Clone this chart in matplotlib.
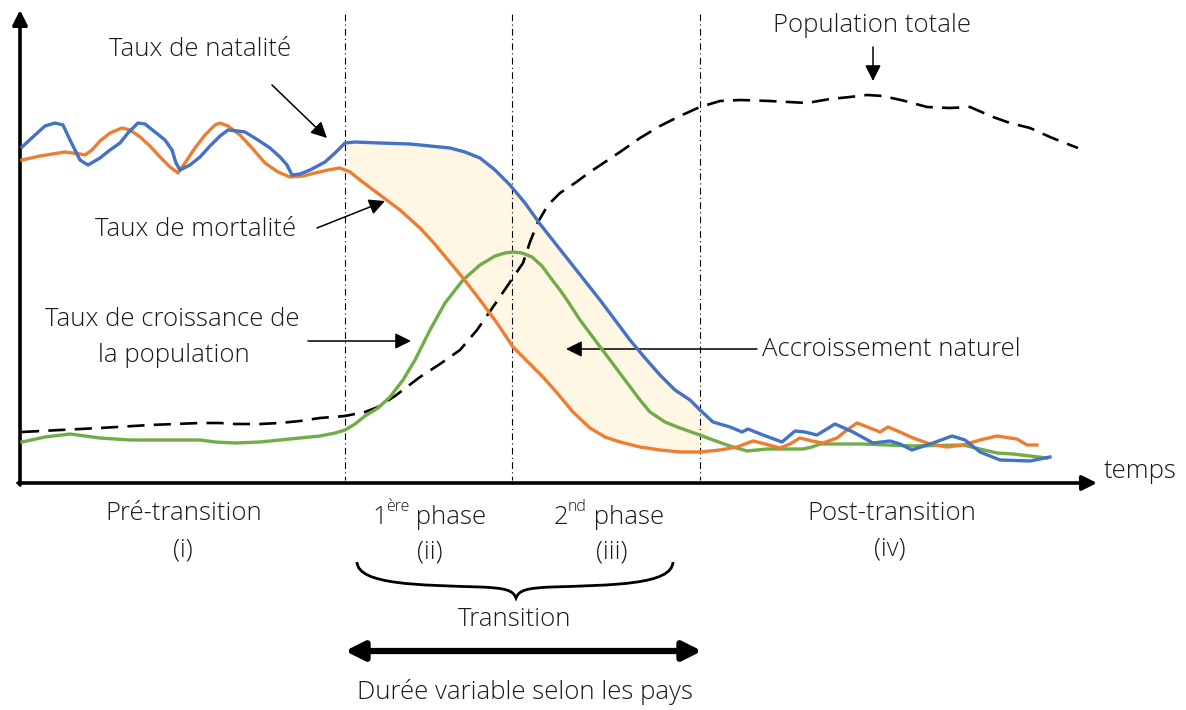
import matplotlib.pyplot as plt
from matplotlib.path import Path
from matplotlib.patches import PathPatch

plt.rcParams['font.family'] = ['Open Sans', 'DejaVu Sans']
plt.rcParams['font.weight'] = 'light'

# Curves (x = time, y = pixel height from the top)
birth_x = [22, 35, 45, 55, 63, 70, 80, 88, 100, 110, 120, 128, 138, 145, 155, 165, 172, 176, 180,
           190, 200, 210, 220, 228, 238, 245, 258, 270, 280, 287, 292, 300, 310, 325, 335, 345, 355,
           380, 410, 430, 450, 465, 480, 495, 510, 525, 540, 555, 570, 585, 600, 615, 630, 645, 660,
           675, 690, 700, 713, 730, 742, 748, 763, 782, 795, 805, 817, 835, 853, 873, 890, 900, 912,
           933, 952, 965, 980, 1000, 1030, 1050]
birth_y = [147, 135, 126, 123, 125, 140, 160, 165, 158, 150, 143, 133, 123, 124, 132, 140, 150, 163, 170,
           165, 157, 146, 136, 130, 131, 132, 140, 148, 157, 165, 175, 174, 170, 162, 153, 143, 142,
           143, 144, 146, 148, 152, 158, 170, 185, 203, 224, 243, 262, 281, 300, 320, 340, 358, 375,
           390, 400, 410, 422, 427, 432, 429, 435, 442, 431, 432, 435, 424, 432, 443, 441, 444, 450,
           443, 436, 440, 452, 460, 461, 457]

death_x = [22, 40, 65, 80, 85, 92, 100, 110, 122, 130, 140, 150, 160, 170, 178, 185, 195, 205, 215,
           220, 228, 240, 252, 265, 278, 290, 303, 315, 328, 340, 350, 360, 380, 400, 420, 433, 448,
           463, 480, 497, 513, 528, 543, 558, 573, 590, 605, 620, 640, 660, 680, 700, 720, 737, 753,
           765, 780, 790, 800, 812, 823, 837, 847, 857, 870, 880, 888, 900, 913, 930, 947, 963, 980,
           997, 1010, 1017, 1027, 1037]
death_y = [160, 156, 152, 154, 155, 150, 141, 133, 128, 130, 137, 146, 157, 167, 173, 163, 148, 135, 125,
           123, 126, 135, 148, 163, 172, 177, 176, 173, 170, 168, 172, 180, 195, 210, 228, 242, 260,
           278, 300, 323, 347, 362, 377, 394, 412, 428, 437, 442, 447, 450, 452, 452, 450, 447, 441,
           444, 448, 444, 438, 441, 443, 438, 430, 423, 428, 432, 427, 432, 438, 444, 447, 445, 440,
           436, 438, 439, 445, 445]

growth_x = [22, 45, 70, 100, 130, 170, 200, 215, 235, 260, 280, 300, 320, 335, 345, 355, 365, 378,
            390, 403, 415, 430, 445, 463, 480, 495, 505, 513, 522, 532, 542, 550, 560, 567, 580, 595,
            610, 625, 640, 650, 665, 680, 697, 713, 730, 747, 767, 803, 812, 820, 863, 913, 963, 980,
            997, 1013, 1030, 1047]
growth_y = [442, 437, 434, 438, 440, 440, 440, 442, 443, 442, 440, 438, 436, 433, 430, 424, 416, 408,
            397, 380, 360, 330, 303, 280, 265, 256, 253, 252, 253, 257, 266, 277, 290, 300, 320, 340,
            360, 380, 400, 412, 422, 428, 434, 440, 446, 451, 449, 449, 447, 444, 444, 446, 445, 449,
            453, 454, 456, 458]

pop_x = [22, 60, 100, 150, 200, 220, 235, 260, 280, 300, 320, 345, 365, 378, 395, 420, 440, 460, 477,
         493, 508, 523, 530, 538, 548, 560, 575, 590, 605, 620, 640, 660, 680, 700, 720, 740, 770, 807,
         830, 850, 867, 883, 905, 927, 950, 970, 993, 1010, 1030, 1050, 1065, 1078]
pop_y = [432, 430, 428, 425, 423, 423, 424, 424, 423, 421, 418, 416, 412, 407, 396, 377, 364, 350, 330,
         307, 285, 263, 242, 222, 205, 193, 183, 172, 162, 152, 138, 126, 116, 107, 101, 100, 101, 103,
         99, 97, 95, 96, 101, 107, 108, 107, 117, 123, 128, 137, 143, 148]

phase_bounds = [345, 512, 700]
phase_names = ['Pré-transition', None, None, 'Post-transition']
phase_nums = ['(i)', '(ii)', '(iii)', '(iv)']

BLUE = '#4472C4'
ORANGE = '#ED7D31'
GREEN = '#70AD47'
INK = '#1a1a1a'
FS = 18.5

fig = plt.figure(figsize=(11.86, 7.10), dpi=100)
ax = fig.add_axes([0, 0, 1, 1])
ax.set_xlim(0, 1186)
ax.set_ylim(710, 0)
ax.axis('off')

# natural increase band between birth and death rates
fb = [(x, y) for x, y in zip(birth_x, birth_y) if 345 <= x <= 713]
fd = [(x, y) for x, y in zip(death_x, death_y) if 345 <= x <= 713]
poly = fb + fd[::-1]
ax.fill([p[0] for p in poly], [p[1] for p in poly], color='#FFF6E3', lw=0, zorder=1)

for xv in phase_bounds:
    ax.plot([xv, xv], [14, 480], color='black', lw=0.8, ls=(0, (6, 3, 1, 3)), zorder=2)

ax.plot(pop_x, pop_y, color='black', lw=1.9, dashes=(6.5, 3.5), zorder=3)
ax.plot(growth_x, growth_y, color=GREEN, lw=2.4, solid_joinstyle='round', zorder=4)
ax.plot(death_x, death_y, color=ORANGE, lw=2.4, solid_joinstyle='round', zorder=5)
ax.plot(birth_x, birth_y, color=BLUE, lw=2.4, solid_joinstyle='round', zorder=6)

# axes arrows
ax.annotate('', xy=(20, 10), xytext=(20, 485),
            arrowprops=dict(arrowstyle='-|>', lw=2.6, color='black', mutation_scale=22, shrinkA=0, shrinkB=0))
ax.annotate('', xy=(1097, 483), xytext=(18, 483),
            arrowprops=dict(arrowstyle='-|>', lw=2.6, color='black', mutation_scale=22, shrinkA=0, shrinkB=0))
ax.text(1104, 472, 'temps', fontsize=FS, va='center', ha='left', color=INK)

# labels with pointers
arrow_kw = dict(arrowstyle='-|>', lw=1.1, color='black', mutation_scale=24, shrinkA=0, shrinkB=0)
ax.text(200, 49, 'Taux de natalité', fontsize=FS, ha='center', va='center', color=INK)
ax.annotate('', xy=(327, 138), xytext=(272, 85), arrowprops=arrow_kw)
ax.text(196, 230, 'Taux de mortalité', fontsize=FS, ha='center', va='center', color=INK)
ax.annotate('', xy=(385, 201), xytext=(317, 228), arrowprops=arrow_kw)
ax.text(172, 320, 'Taux de croissance de', fontsize=FS, ha='center', va='center', color=INK)
ax.text(174, 355, 'la population', fontsize=FS, ha='center', va='center', color=INK)
ax.annotate('', xy=(411, 341), xytext=(308, 341), arrowprops=arrow_kw)
ax.text(762, 350, 'Accroissement naturel', fontsize=FS, ha='left', va='center', color=INK)
ax.annotate('', xy=(566, 349), xytext=(757, 349), arrowprops=arrow_kw)
ax.text(872, 26, 'Population totale', fontsize=FS, ha='center', va='center', color=INK)
ax.annotate('', xy=(873, 81), xytext=(873, 47), arrowprops=arrow_kw)

# phase labels
ax.text(184, 514, phase_names[0], fontsize=FS, ha='center', va='center', color=INK)
ax.text(183, 550, phase_nums[0], fontsize=FS, ha='center', va='center', color=INK)
ax.text(892, 513, phase_names[3], fontsize=FS, ha='center', va='center', color=INK)
ax.text(890, 549, phase_nums[3], fontsize=FS, ha='center', va='center', color=INK)

for left, num, sup, numx in [(372, '1', 'ère', 430), (554, '2', 'nd', 612)]:
    t1 = ax.text(left, 517, num, fontsize=FS, ha='left', va='center', color=INK)
    t2 = ax.annotate(sup, xy=(0.95, 0.58), xycoords=t1, fontsize=11.5, ha='left', va='bottom', color=INK)
    ax.annotate(' phase', xy=(1, 0), xycoords=(t2, t1), fontsize=FS, ha='left', va='bottom', color=INK)
    ax.text(numx, 552, phase_nums[1 if num == '1' else 2], fontsize=FS, ha='center', va='center', color=INK)

# brace under transition phases
verts = [(357, 562), (358, 585), (420, 585), (480, 587), (505, 588), (513, 590), (516, 598),
         (519, 590), (527, 588), (552, 587), (612, 585), (672, 585), (673, 562)]
codes = [Path.MOVETO] + [Path.CURVE4] * 12
ax.add_patch(PathPatch(Path(verts, codes), fill=False, lw=2.0, color='black', zorder=3))
ax.text(515, 619, 'Transition', fontsize=FS, ha='center', va='center', color=INK)

ax.annotate('', xy=(345, 651), xytext=(702, 651),
            arrowprops=dict(arrowstyle='<|-|>', lw=4.5, color='black', mutation_scale=28, shrinkA=0, shrinkB=0))
ax.text(525, 692, 'Durée variable selon les pays', fontsize=FS, ha='center', va='center', color=INK)

fig.savefig('out.png', dpi=100)
